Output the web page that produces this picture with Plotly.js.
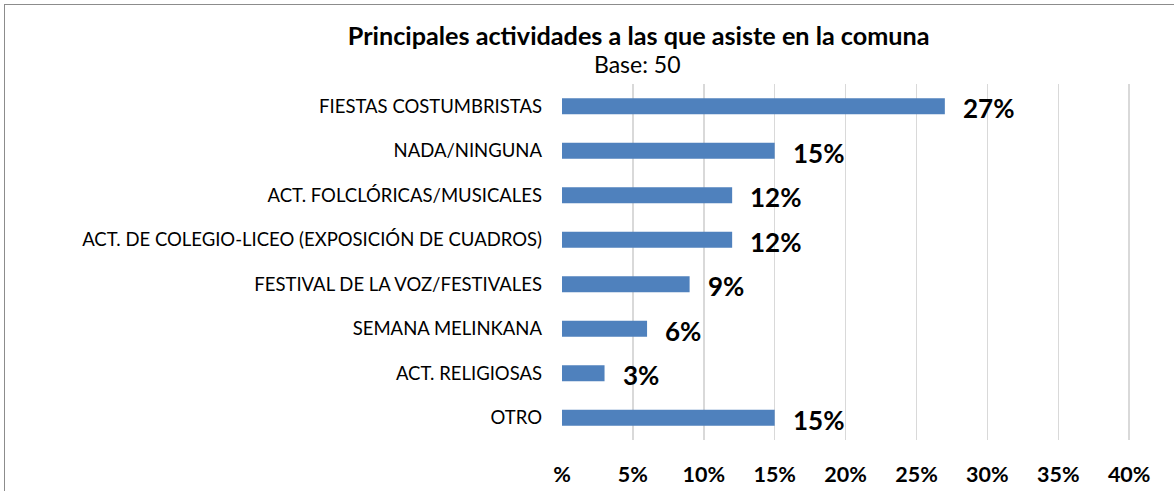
<!DOCTYPE html>
<html><head><meta charset="utf-8">
<script src="https://cdn.plot.ly/plotly-3.0.1.min.js"></script>
<style>
html,body{margin:0;padding:0;background:#fff;overflow:hidden}
#frame{position:absolute;left:4px;top:4px;width:1200px;height:520px;border:1.5px solid #8c8c8c;box-sizing:border-box;pointer-events:none;z-index:5}
#chart{position:absolute;left:0;top:0;width:1174px;height:491px}
</style></head>
<body>
<div id="chart"></div><div id="frame"></div>
<script>
const categories = ["FIESTAS COSTUMBRISTAS","NADA/NINGUNA","ACT. FOLCLÓRICAS/MUSICALES","ACT. DE COLEGIO-LICEO (EXPOSICIÓN DE CUADROS)","FESTIVAL DE LA VOZ/FESTIVALES","SEMANA MELINKANA","ACT. RELIGIOSAS","OTRO"];
const values = [27,15,12,12,9,6,3,15];
const tickVals = [0,5,10,15,20,25,30,35,40];
const tickText = ["%","5%","10%","15%","20%","25%","30%","35%","40%"];

const font = "Lato, 'Open Sans', sans-serif";
const trace = {
  type:"bar", orientation:"h",
  x: values, y: categories,
  marker:{color:"#4F81BD"},
  hoverinfo:"none"
};
const annotations = values.map((v,i)=>({
  x:v, y:categories[i], xref:"x", yref:"y",
  text:"<b>"+v+"%</b>", showarrow:false, xanchor:"left", xshift:16, yshift:-2,
  font:{family:font,size:26,color:"#000"}
}));
annotations.push({xref:"paper",yref:"paper",x:0.133,y:1.0,yshift:20,xanchor:"center",yanchor:"middle",
  text:"Base: 50",showarrow:false,font:{family:font,size:23,color:"#000"}});
const layout = {
  width:1174, height:491,
  margin:{l:562,r:42,t:84,b:51},
  paper_bgcolor:"#fff", plot_bgcolor:"#fff",
  title:{text:"<b>Principales actividades a las que asiste en la comuna</b>",
    font:{family:font,size:25.2,color:"#000"}, x:0.544, xanchor:"center", y:0.927, yanchor:"middle"},
  bargap:0.64,
  showlegend:false,
  xaxis:{range:[0,40.2], tickvals:tickVals, ticktext:tickText, showgrid:true,
    gridcolor:"#d9d9d9", gridwidth:1.5, zeroline:false, showline:false,
    ticks:"", ticklabelstandoff:19,
    tickfont:{family:font,size:21.5,color:"#000",weight:"bold"}, fixedrange:true},
  yaxis:{autorange:"reversed", showgrid:false, zeroline:false, showline:false,
    ticks:"", ticklabelstandoff:19,
    tickfont:{family:font,size:18.5,color:"#000"}},
  annotations: annotations
};
Plotly.newPlot("chart",[trace],layout,{staticPlot:true});
</script>
</body></html>
